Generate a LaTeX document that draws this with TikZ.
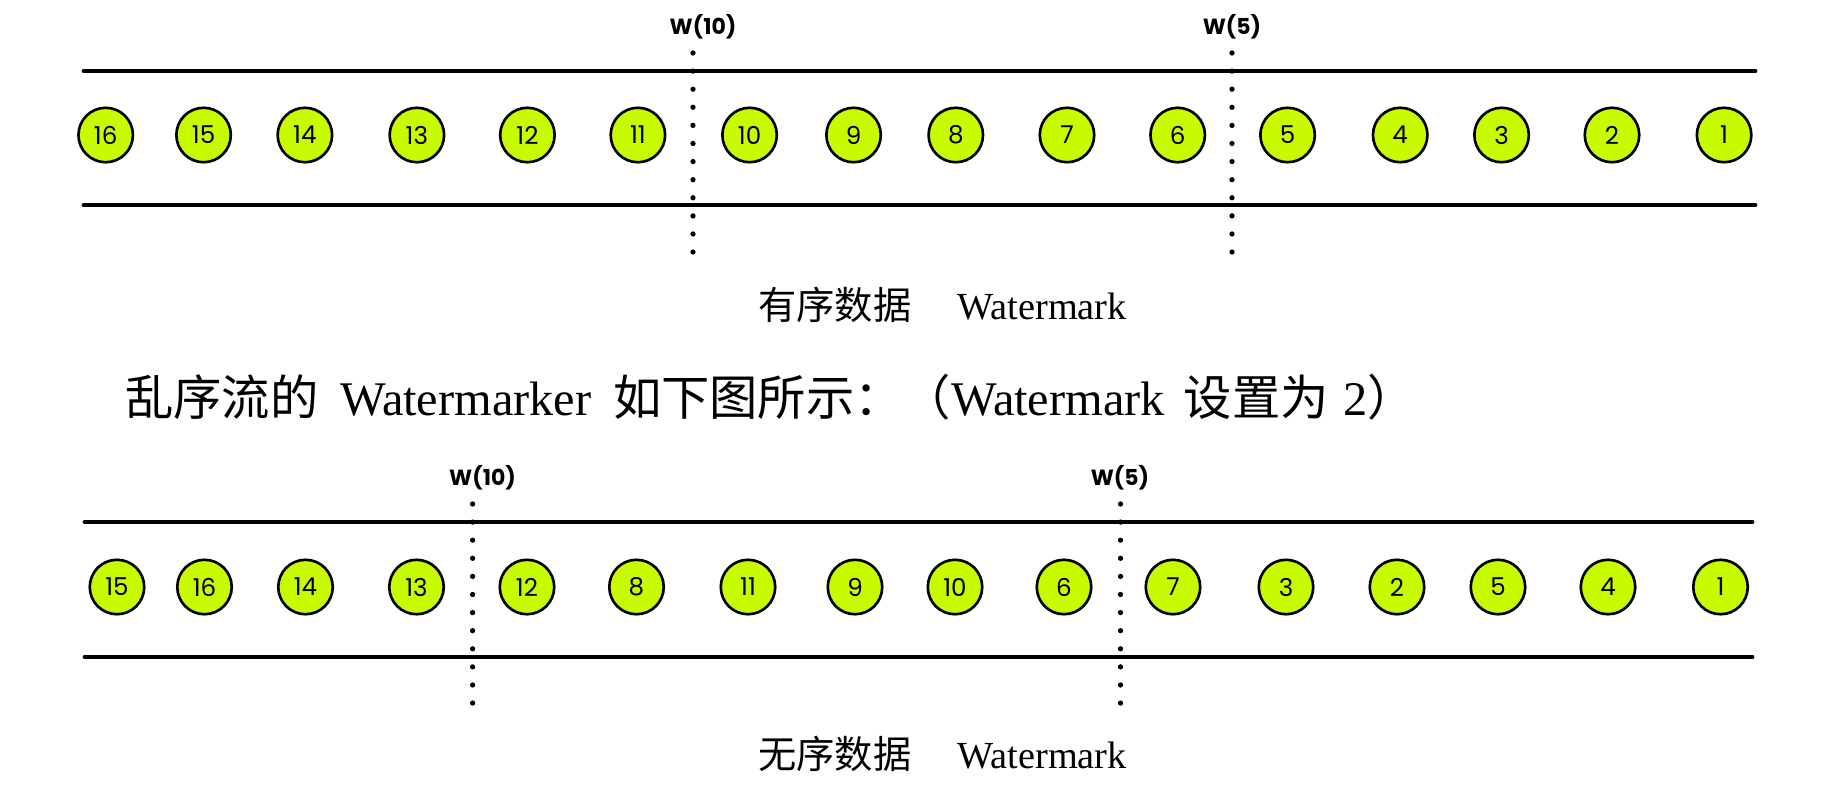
\documentclass[tikz,border=0pt]{standalone}
\usepackage{fontspec}
\setmainfont{Liberation Serif}
\newfontfamily\cjk{Noto Sans CJK SC}
\newfontfamily\ballfont{Poppins}
\usetikzlibrary{positioning}
\definecolor{ballgreen}{RGB}{200,250,0}

\tikzset{
  ball/.style={circle, draw, line width=1.5pt, fill=ballgreen, minimum size=31pt, inner sep=0pt,
    font=\ballfont\fontsize{14}{14}\selectfont},
  rail/.style={line width=2.8pt, line cap=round},
  wmline/.style={line width=3pt, line cap=round, dash pattern=on 0pt off 10.3pt},
  wmlabel/.style={font=\ballfont\bfseries\fontsize{12.5}{13}\selectfont},
  caption/.style={anchor=base west, inner sep=0pt, font=\fontsize{21.8}{22}\selectfont},
  intro/.style={anchor=base west, inner sep=0pt, font=\fontsize{27.5}{28}\selectfont}
}

\begin{document}
\begin{tikzpicture}[x=0.02cm, y=-0.02cm]
\useasboundingbox (0,0) rectangle (1846,788);

\coordinate (ta) at (84,71);
\coordinate (tb) at (1755,71);
\coordinate (tc) at (84,205);
\coordinate (td) at (1755,205);
\draw[rail] (ta) -- (tb);
\draw[rail] (tc) -- (td);

\foreach \x/\n in {105.7/16, 203.6/15, 304.9/14, 416.9/13, 527.4/12, 637.9/11, 749.6/10, 853.6/9,
  955.8/8, 1067/7, 1177.7/6, 1287.6/5, 1400.2/4, 1501.6/3, 1612/2, 1724.1/1}
  \node[ball] (t\n) at (\x,135) {\n};

\coordinate (tw10a) at (693,53);
\coordinate (tw10b) at (693,253);
\coordinate (tw5a) at (1232,53);
\coordinate (tw5b) at (1232,253);
\draw[wmline] (tw10a) -- (tw10b);
\draw[wmline] (tw5a) -- (tw5b);
\node[wmlabel] (tw10) at (703,27) {W(10)};
\node[wmlabel] (tw5) at (1232,27) {W(5)};

\node[caption] (tcap) at (758,319) {{\cjk 有序数据}\hspace{1.2em}Watermark};

\node[intro] (mid) at (125,415) {{\cjk 乱序流的}\hspace{0.45em}Watermarker\hspace{0.45em}{\cjk 如下图所示：（}Watermark\hspace{0.4em}{\cjk 设置为}\hspace{0.3em}2{\cjk ）}};

\coordinate (ba) at (85,522);
\coordinate (bb) at (1752,522);
\coordinate (bc) at (85,657);
\coordinate (bd) at (1752,657);
\draw[rail] (ba) -- (bb);
\draw[rail] (bc) -- (bd);

\foreach \x/\n in {117/15, 204.5/16, 305.5/14, 416.5/13, 527/12, 636.5/8, 748/11, 855/9,
  955/10, 1064/6, 1173/7, 1286/3, 1397/2, 1498/5, 1608/4, 1720.5/1}
  \node[ball] (b\n) at (\x,587) {\n};

\coordinate (bw10a) at (472.6,504);
\coordinate (bw10b) at (472.6,704);
\coordinate (bw5a) at (1120.5,504);
\coordinate (bw5b) at (1120.5,704);
\draw[wmline] (bw10a) -- (bw10b);
\draw[wmline] (bw5a) -- (bw5b);
\node[wmlabel] (bw10) at (482.5,478) {W(10)};
\node[wmlabel] (bw5) at (1120,478) {W(5)};

\node[caption] (bcap) at (758,768) {{\cjk 无序数据}\hspace{1.2em}Watermark};
\end{tikzpicture}
\end{document}
